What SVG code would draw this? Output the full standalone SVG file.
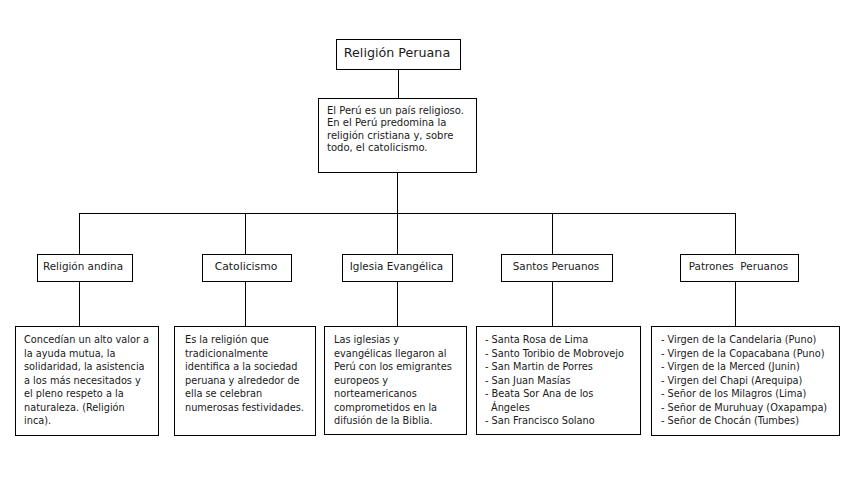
<svg xmlns="http://www.w3.org/2000/svg" width="850" height="480" viewBox="0 0 850 480">
<style>
.box{fill:#fff;stroke:#000;stroke-width:1}
.ln{stroke:#000;stroke-width:1;fill:none}
text{font-family:"DejaVu Sans","Verdana",sans-serif;fill:#1a1a1a}
.t{font-size:12.7px;text-anchor:middle}
.l2{font-size:10.4px;text-anchor:middle}
.b{font-size:10px}
.s{font-size:9.75px}
</style>
<rect width="850" height="480" fill="#fff"/>
<g id="connectors">
<line class="ln" x1="398.5" y1="69" x2="398.5" y2="98"/>
<line class="ln" x1="397.5" y1="172" x2="397.5" y2="213"/>
<line class="ln" x1="79" y1="213.5" x2="736" y2="213.5"/>
<line class="ln" x1="79.5" y1="213" x2="79.5" y2="254"/>
<line class="ln" x1="245.5" y1="213" x2="245.5" y2="254"/>
<line class="ln" x1="397.5" y1="213" x2="397.5" y2="254"/>
<line class="ln" x1="552.5" y1="213" x2="552.5" y2="254"/>
<line class="ln" x1="735.5" y1="213" x2="735.5" y2="254"/>
<line class="ln" x1="79.5" y1="281" x2="79.5" y2="326"/>
<line class="ln" x1="245.5" y1="281" x2="245.5" y2="326"/>
<line class="ln" x1="397.5" y1="281" x2="397.5" y2="326"/>
<line class="ln" x1="552.5" y1="281" x2="552.5" y2="326"/>
<line class="ln" x1="735.5" y1="281" x2="735.5" y2="326"/>
</g>
<g id="n-root">
<rect class="box" x="336.5" y="39.5" width="124" height="30"/>
<text class="t" x="397" y="57">Religión Peruana</text>
</g>
<g id="n-intro">
<rect class="box" x="318.5" y="98.5" width="158" height="74"/>
<text class="b" x="327"><tspan x="327" y="113.5">El Perú es un país religioso.</tspan><tspan x="327" y="126">En el Perú predomina la</tspan><tspan x="327" y="138.5">religión cristiana y, sobre</tspan><tspan x="327" y="151">todo, el catolicismo.</tspan></text>
</g>
<g id="n-andina">
<rect class="box" x="37.5" y="254.5" width="95" height="27"/>
<text class="l2" x="83" y="270">Religión andina</text>
</g>
<g id="n-catolicismo">
<rect class="box" x="202.5" y="254.5" width="89" height="27"/>
<text class="l2" x="246" y="270" style="font-size:10.8px">Catolicismo</text>
</g>
<g id="n-evangelica">
<rect class="box" x="342.5" y="254.5" width="110" height="27"/>
<text class="l2" x="396.5" y="270">Iglesia Evangélica</text>
</g>
<g id="n-santos">
<rect class="box" x="501.5" y="254.5" width="111" height="27"/>
<text class="l2" x="556" y="270">Santos Peruanos</text>
</g>
<g id="n-patrones">
<rect class="box" x="680.5" y="254.5" width="118" height="27"/>
<text class="l2" x="738.5" y="270" xml:space="preserve">Patrones  Peruanos</text>
</g>
<g id="d-andina">
<rect class="box" x="15.5" y="326.5" width="143" height="109"/>
<text class="s"><tspan x="24" y="343">Concedían un alto valor a</tspan><tspan x="24" y="356.5">la ayuda mutua, la</tspan><tspan x="24" y="370">solidaridad, la asistencia</tspan><tspan x="24" y="383.5">a los más necesitados y</tspan><tspan x="24" y="397">el pleno respeto a la</tspan><tspan x="24" y="410.5">naturaleza. (Religión</tspan><tspan x="24" y="424">inca).</tspan></text>
</g>
<g id="d-catolicismo">
<rect class="box" x="174.5" y="326.5" width="141" height="109"/>
<text class="s"><tspan x="185" y="343">Es la religión que</tspan><tspan x="185" y="356.5">tradicionalmente</tspan><tspan x="185" y="370">identifica a la sociedad</tspan><tspan x="185" y="383.5">peruana y alrededor de</tspan><tspan x="185" y="397">ella se celebran</tspan><tspan x="185" y="410.5">numerosas festividades.</tspan></text>
</g>
<g id="d-evangelica">
<rect class="box" x="324.5" y="326.5" width="142" height="108"/>
<text class="s"><tspan x="334" y="343">Las iglesias y</tspan><tspan x="334" y="356.5">evangélicas llegaron al</tspan><tspan x="334" y="370">Perú con los emigrantes</tspan><tspan x="334" y="383.5">europeos y</tspan><tspan x="334" y="397">norteamericanos</tspan><tspan x="334" y="410.5">comprometidos en la</tspan><tspan x="334" y="424">difusión de la Biblia.</tspan></text>
</g>
<g id="d-santos">
<rect class="box" x="476.5" y="326.5" width="164" height="108"/>
<text class="s"><tspan x="485" y="343">- Santa Rosa de Lima</tspan><tspan x="485" y="356.5">- Santo Toribio de Mobrovejo</tspan><tspan x="485" y="370">- San Martin de Porres</tspan><tspan x="485" y="383.5">- San Juan Masías</tspan><tspan x="485" y="397">- Beata Sor Ana de los</tspan><tspan x="491" y="410.5">Ángeles</tspan><tspan x="485" y="424">- San Francisco Solano</tspan></text>
</g>
<g id="d-patrones">
<rect class="box" x="651.5" y="326.5" width="188" height="109"/>
<text class="s"><tspan x="661" y="343">- Virgen de la Candelaria (Puno)</tspan><tspan x="661" y="356.5">- Virgen de la Copacabana (Puno)</tspan><tspan x="661" y="370">- Virgen de la Merced (Junin)</tspan><tspan x="661" y="383.5">- Virgen del Chapi (Arequipa)</tspan><tspan x="661" y="397">- Señor de los Milagros (Lima)</tspan><tspan x="661" y="410.5">- Señor de Muruhuay (Oxapampa)</tspan><tspan x="661" y="424">- Señor de Chocán (Tumbes)</tspan></text>
</g>
</svg>
